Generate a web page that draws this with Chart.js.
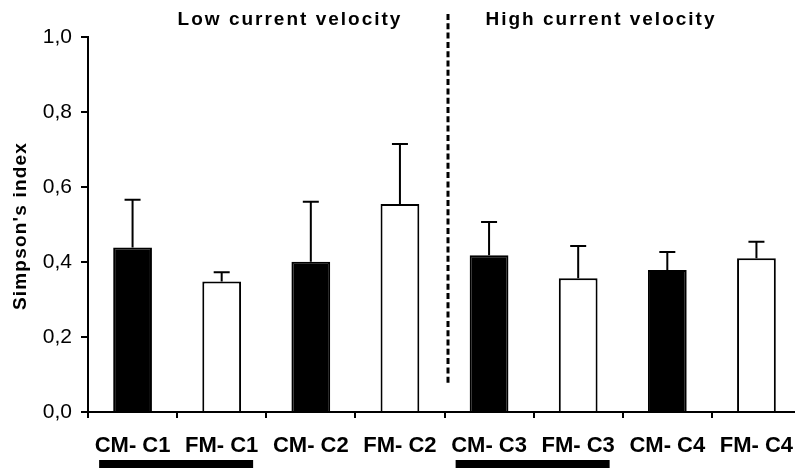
<!DOCTYPE html>
<html>
<head>
<meta charset="utf-8">
<script src="https://cdn.jsdelivr.net/npm/chart.js@4/dist/chart.umd.min.js"></script>
<style>
  html, body { margin: 0; padding: 0; overflow: hidden; background: #fff; }
  canvas { display: block; }
</style>
</head>
<body>
<canvas id="c" width="802" height="468"></canvas>
<script>
// Simpson's diversity index per sampling group (mean and upper error)
const categories = ['CM- C1', 'FM- C1', 'CM- C2', 'FM- C2', 'CM- C3', 'FM- C3', 'CM- C4', 'FM- C4'];
const simpsonMean = [0.439, 0.348, 0.401, 0.555, 0.418, 0.357, 0.379, 0.410];
const simpsonErr = [0.127, 0.025, 0.160, 0.160, 0.089, 0.086, 0.048, 0.044];
const yTickValues = [0, 0.2, 0.4, 0.6, 0.8, 1.0];
const groupTitles = ['Low current velocity', 'High current velocity'];
const underlinedPairs = [[0, 1], [4, 5]];
const dividerAfter = 3; // velocity groups split after this category index

const FONT = "'Liberation Sans', Arial, sans-serif";

// CM groups are drawn solid, FM groups hollow
const fills = categories.map(c => c.startsWith('CM') ? '#000' : '#fff');

const errorBars = {
  id: 'errorBars',
  afterDatasetsDraw(chart) {
    const { ctx } = chart;
    const y = chart.scales.y;
    const meta = chart.getDatasetMeta(0);
    ctx.save();
    ctx.strokeStyle = '#000';
    ctx.lineWidth = 2;
    meta.data.forEach((bar, i) => {
      const top = y.getPixelForValue(simpsonMean[i] + simpsonErr[i]);
      ctx.beginPath();
      ctx.moveTo(bar.x, bar.y);
      ctx.lineTo(bar.x, top);
      ctx.moveTo(bar.x - 8, top);
      ctx.lineTo(bar.x + 8, top);
      ctx.stroke();
    });
    ctx.restore();
  }
};

const decorations = {
  id: 'decorations',
  afterDraw(chart) {
    const { ctx } = chart;
    const x = chart.scales.x;
    const step = x.getPixelForValue(1) - x.getPixelForValue(0);
    ctx.save();

    // dashed divider between the two velocity groups
    const dx = x.getPixelForValue(dividerAfter) + step / 2 + 3.5;
    ctx.strokeStyle = '#000';
    ctx.lineWidth = 3;
    ctx.setLineDash([6, 3.3]);
    ctx.beginPath();
    ctx.moveTo(dx, 14);
    ctx.lineTo(dx, 386);
    ctx.stroke();
    ctx.setLineDash([]);

    // group headings
    ctx.fillStyle = '#000';
    ctx.font = `bold 19px ${FONT}`;
    ctx.letterSpacing = '2px';
    ctx.textAlign = 'center';
    ctx.textBaseline = 'alphabetic';
    ctx.fillText(groupTitles[0], 290, 24.5);
    ctx.fillText(groupTitles[1], 601, 24.5);

    // y-axis title
    ctx.save();
    ctx.translate(26, 226);
    ctx.rotate(-Math.PI / 2);
    ctx.letterSpacing = '1.2px';
    ctx.fillText("Simpson's index", 0, 0);
    ctx.restore();

    // black bars under paired labels
    underlinedPairs.forEach(([a, b]) => {
      const mid = (x.getPixelForValue(a) + x.getPixelForValue(b)) / 2;
      ctx.fillRect(mid - 78, 460, 154, 12);
    });
    ctx.restore();
  }
};

new Chart(document.getElementById('c'), {
  type: 'bar',
  data: {
    labels: categories,
    datasets: [{
      data: simpsonMean,
      backgroundColor: fills,
      borderColor: '#000',
      borderWidth: 2,
      barPercentage: 0.435,
      categoryPercentage: 1.0
    }]
  },
  options: {
    responsive: false,
    animation: false,
    layout: { padding: { top: 37, right: 1, bottom: 0, left: 0 } },
    plugins: { legend: { display: false }, tooltip: { enabled: false } },
    scales: {
      x: {
        afterFit(s) { s.height = 56; s.paddingLeft = 0; s.paddingRight = 0; },
        border: { color: '#000', width: 2 },
        grid: { drawOnChartArea: false, color: '#000', lineWidth: 2, tickLength: 6, offset: true },
        ticks: { color: '#000', font: { family: FONT, size: 22, weight: 'bold' }, padding: 15, maxRotation: 0 }
      },
      y: {
        min: 0,
        max: 1,
        afterFit(s) { s.width = 88; s.paddingTop = 0; s.paddingBottom = 0; },
        afterBuildTicks(s) { s.ticks = yTickValues.map(v => ({ value: v })); },
        border: { color: '#000', width: 2 },
        grid: { drawOnChartArea: false, color: '#000', lineWidth: 2, tickLength: 7 },
        ticks: {
          color: '#000',
          padding: 9,
          font: { family: FONT, size: 21 },
          callback: v => v.toFixed(1).replace('.', ',')
        }
      }
    }
  },
  plugins: [errorBars, decorations]
});
</script>
</body>
</html>
